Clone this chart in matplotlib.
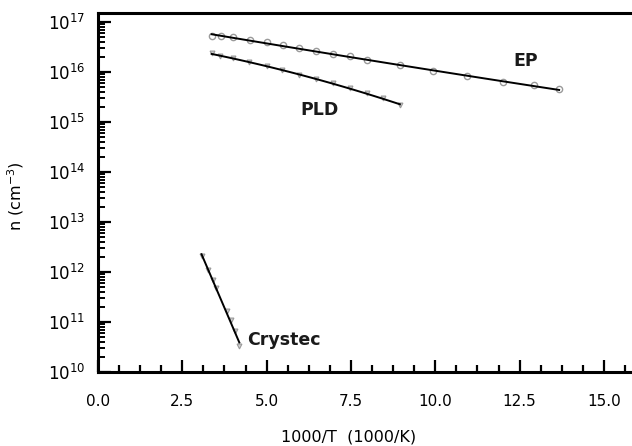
import matplotlib
matplotlib.use('Agg')
import matplotlib.pyplot as plt
import numpy as np
from matplotlib.ticker import MultipleLocator, FormatStrFormatter, LogLocator

# EP (open circles)
ep_x = [3.37, 3.64, 3.99, 4.51, 5.00, 5.49, 5.97, 6.47, 6.96, 7.47, 7.97, 8.95, 9.94, 10.95, 12.00, 12.93, 13.67]
ep_logn = [16.72, 16.72, 16.69, 16.63, 16.59, 16.53, 16.47, 16.41, 16.36, 16.31, 16.24, 16.13, 16.01, 15.91, 15.79, 15.74, 15.65]

# PLD
pld_x = [3.37, 3.61, 3.99, 4.48, 5.00, 5.47, 5.97, 6.46, 6.96, 7.47, 7.97, 8.46, 8.95]
pld_logn = [16.37, 16.32, 16.27, 16.19, 16.12, 16.04, 15.94, 15.85, 15.77, 15.67, 15.57, 15.47, 15.34]

# Crystec
cry_x = [3.07, 3.27, 3.42, 3.50, 3.82, 3.93, 4.06, 4.19]
cry_logn = [12.31, 12.04, 11.84, 11.67, 11.21, 11.04, 10.81, 10.51]


def fit_line(x, logn, deg):
    # smooth fitted curve through the measured points
    xs = np.linspace(min(x), max(x), 100)
    p = np.polyfit(x, logn, deg)
    return xs, 10 ** np.polyval(p, xs)


fig = plt.figure(figsize=(6.32, 4.46), dpi=100)
ax = fig.add_axes([0.155, 0.166, 0.845, 0.805])

gray = '#9a9a9a'
for x, logn, deg, m in [(ep_x, ep_logn, 2, 'o'), (pld_x, pld_logn, 2, 'v'), (cry_x, cry_logn, 1, 'v')]:
    n = [10 ** v for v in logn]
    if m == 'o':
        ax.plot(x, n, 'o', mfc='none', mec=gray, ms=4.5, mew=1.0, zorder=2)
    else:
        ax.plot(x, n, 'v', mfc='#cfcfcf', mec=gray, ms=3.5, mew=0.8, zorder=2)
    xs, ys = fit_line(x, logn, deg)
    ax.plot(xs, ys, color='black', lw=1.4, zorder=3)

ax.text(12.3, 10 ** 16.22, 'EP', fontsize=12.5, fontweight='bold', ha='left', va='center', color='#1a1a1a')
ax.text(5.99, 10 ** 15.23, 'PLD', fontsize=12.5, fontweight='bold', ha='left', va='center', color='#1a1a1a')
ax.text(4.41, 10 ** 10.63, 'Crystec', fontsize=12.5, fontweight='bold', ha='left', va='center', color='#1a1a1a')

ax.set_yscale('log')
ax.set_xlim(0, 15.83)
ax.set_ylim(1e10, 10 ** 17.18)

ax.xaxis.set_major_locator(MultipleLocator(2.5))
ax.xaxis.set_minor_locator(MultipleLocator(0.625))
ax.xaxis.set_major_formatter(FormatStrFormatter('%.1f'))
ax.yaxis.set_major_locator(LogLocator(base=10, numticks=20))
ax.yaxis.set_minor_locator(LogLocator(base=10, subs=range(2, 10), numticks=20))

for s in ['left', 'bottom', 'top']:
    ax.spines[s].set_linewidth(2.2)
ax.spines['right'].set_visible(False)

ax.tick_params(axis='x', which='major', direction='in', length=9, width=1.6, labelsize=11, pad=16)
ax.tick_params(axis='x', which='minor', direction='in', length=5, width=1.6)
ax.tick_params(axis='y', which='major', direction='in', length=9, width=1.6, labelsize=12, pad=9)
ax.tick_params(axis='y', which='minor', direction='in', length=5, width=1.4)
ax.tick_params(top=False, right=False, which='both')

ax.set_xlabel('1000/T  (1000/K)', fontsize=11.5)
ax.xaxis.set_label_coords(0.47, -0.181)
ax.xaxis.label.set_va('center')
ax.set_ylabel('n (cm$^{-3}$)', fontsize=11.5)
ax.yaxis.set_label_coords(-0.154, 0.49)
ax.yaxis.label.set_va('center')

fig.savefig('out.png', dpi=100)
